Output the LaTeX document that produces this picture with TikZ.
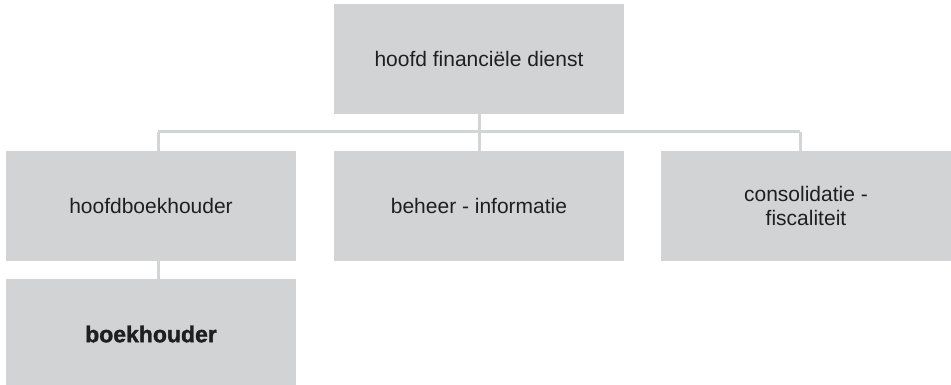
\documentclass[tikz,border=0pt]{standalone}
\usepackage{fontspec}
\setmainfont{Liberation Sans}
\newfontfamily\heavyfont[FakeBold=1.6]{Liberation Sans Bold}
\usetikzlibrary{calc}
\definecolor{boxgray}{HTML}{D2D3D5}
\definecolor{linegray}{HTML}{D3D4D6}
\begin{document}
\begin{tikzpicture}[x=1pt,y=1pt,
  orgbox/.style={fill=boxgray, draw=none, minimum width=290pt, minimum height=110pt, inner sep=0pt,
    align=center, font=\fontsize{21}{24}\selectfont, text=black!88},
  link/.style={draw=linegray, line width=3pt}]
\useasboundingbox (0,0) rectangle (951,385);
\begin{scope}
\clip (0,0) rectangle (951,385);
\node[orgbox] (top) at (479,326) {hoofd financiële dienst};
\node[orgbox] (hb) at (151,179) {hoofdboekhouder};
\node[orgbox] (bi) at (479,179) {beheer - informatie};
\node[orgbox] (cf) at (806,179) {consolidatie -\\fiscaliteit};
\node[orgbox, font=\heavyfont\fontsize{23}{26}\selectfont] (bk) at (151,51) {boekhouder};
\coordinate (bus) at (479,253);
\coordinate (busL) at (158,253);
\coordinate (busR) at (800,253);
\draw[link] (top.south) -- (bus);
\draw[link] (busL) -- (busR);
\draw[link] (busL) -- (busL |- hb.north);
\draw[link] (bus) -- (bi.north);
\draw[link] (busR) -- (busR |- cf.north);
\draw[link] (busL |- hb.south) -- (busL |- bk.north);
\end{scope}
\end{tikzpicture}
\end{document}
